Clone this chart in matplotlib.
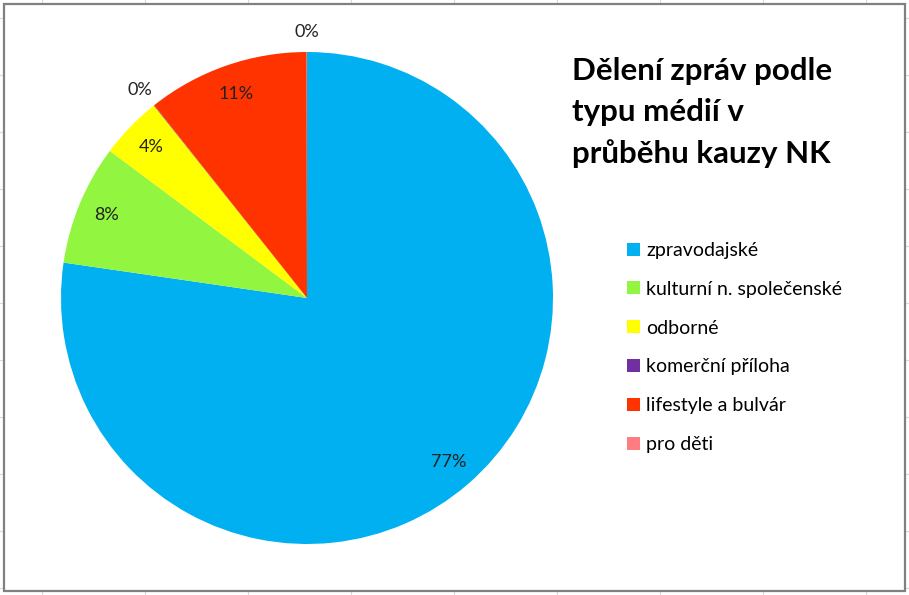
import matplotlib
matplotlib.use("Agg")
import matplotlib.pyplot as plt
from matplotlib.patches import Rectangle
import numpy as np

categories = ["zpravodajské", "kulturní n. společenské", "odborné",
              "komerční příloha", "lifestyle a bulvár", "pro děti"]
values = [77.3, 7.9, 4.1, 0.03, 10.65, 0.02]
colors = ["#00B0F0", "#92F53F", "#FFFF00", "#7030A0", "#FF3300", "#FF7C80"]
title = "Dělení zpráv podle\ntypu médií v\nprůběhu kauzy NK"

plt.rcParams['font.family'] = ['Lato', 'DejaVu Sans']

W, H = 909, 595
fig = plt.figure(figsize=(W / 100, H / 100), dpi=100)
fig.patch.set_facecolor("white")

# spreadsheet gridlines outside chart area
for x in [42, 145, 248, 351, 454, 557, 660, 763, 866]:
    fig.add_artist(plt.Line2D([x / W, x / W], [0, 1], color="#d9d9d9", lw=0.8, zorder=0))
for y in [18, 75, 132, 189, 246, 303, 360, 417, 474, 531, 588]:
    fig.add_artist(plt.Line2D([0, 1], [1 - y / H, 1 - y / H], color="#d9d9d9", lw=0.8, zorder=0))
fig.add_artist(Rectangle((4 / W, 4 / H), (W - 8) / W, (H - 8) / H, transform=fig.transFigure,
                         facecolor="white", edgecolor="#808080", lw=1.6, zorder=1))

cx, cy, r = 307, 298, 246
ax = fig.add_axes([(cx - r) / W, (H - cy - r) / H, 2 * r / W, 2 * r / H])
ax.set_zorder(2)
wedges, texts, autotexts = ax.pie(values, colors=colors, startangle=90, counterclock=False,
                                  autopct="%1.0f%%", pctdistance=0.88,
                                  wedgeprops=dict(linewidth=0),
                                  textprops=dict(fontsize=13, color="#222222"))
ax.set_xlim(-1, 1)
ax.set_ylim(-1, 1)
ax.set_aspect("auto")
for w, t, v in zip(wedges, autotexts, values):
    if v < 1:
        ang = np.deg2rad((w.theta1 + w.theta2) / 2)
        t.set_position((1.09 * np.cos(ang), 1.08 * np.sin(ang)))
        t.set_clip_on(False)

fig.text(572 / W, 1 - 57 / H, title, fontsize=22.5, fontweight="bold", ha="left", va="top",
         linespacing=1.56, color="black")

leg = fig.legend(wedges, categories, loc="upper left", bbox_to_anchor=(627 / W, 1 - 242 / H),
                 frameon=False, fontsize=14, handlelength=0.65, handleheight=0.65,
                 handletextpad=0.35, labelspacing=1.12, borderpad=0, borderaxespad=0)

fig.savefig("out.png", dpi=100)
